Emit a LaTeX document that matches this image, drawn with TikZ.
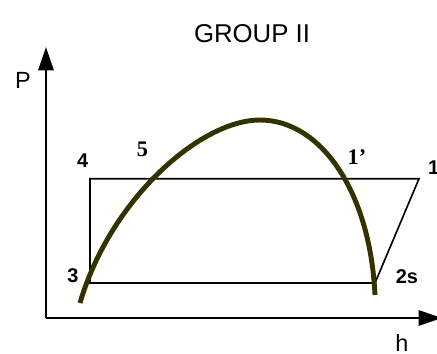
\documentclass[tikz,border=0pt]{standalone}
\usepackage{fontspec}
\setmainfont{Liberation Sans}
\newfontfamily\timesbold{Liberation Serif}[BoldFont={* Bold}]
\usetikzlibrary{arrows.meta}
\definecolor{satcurve}{RGB}{51,51,0}

\begin{document}
\begin{tikzpicture}[x=0.03cm,y=-0.03cm,
    axis/.style={line width=2.2pt,-{Triangle[length=20pt,width=13pt]}},
    cycleline/.style={line width=1.4pt,line join=miter},
    dome/.style={satcurve,line width=4.2pt},
    ptlabel/.style={font=\fontsize{17}{20}\selectfont\bfseries,inner sep=0pt},
    seriflabel/.style={font=\fontsize{19}{22}\selectfont\timesbold\bfseries,inner sep=0pt},
    axlabel/.style={font=\fontsize{20}{24}\selectfont,inner sep=0pt}]
  \useasboundingbox (0,0) rectangle (437,353);

  \coordinate (origin) at (46,318);
  \coordinate (ytip) at (46,47);
  \coordinate (xtip) at (442,318);
  \draw[axis] (origin) -- (ytip);
  \draw[axis] (origin) -- (xtip);
  \node[axlabel] (plabel) at (23,80) {P};
  \node[axlabel] (hlabel) at (402,343) {h};
  \node[font=\fontsize{22}{26}\selectfont,inner sep=0pt] (title) at (252,34) {GROUP II};

  \coordinate (p4) at (90,178.7);
  \coordinate (p1) at (419,178.7);
  \coordinate (p2s) at (375,283);
  \coordinate (p3) at (90,283);
  \draw[cycleline] (p4) -- (p1) -- (p2s) -- (p3) -- cycle;

  \draw[dome] (80,303) .. controls (110,200) and (200,120) .. (260,120)
    .. controls (320,120) and (370,190) .. (375,295);

  \node[ptlabel] (l4) at (82.7,161) {4};
  \node[ptlabel] (l3) at (73,276) {3};
  \node[ptlabel] (l2s) at (407,277) {2s};
  \node[ptlabel,anchor=west] (l1) at (428,168) {1};
  \node[seriflabel] (l5) at (142.5,149) {5};
  \node[seriflabel] (l1p) at (357,157) {1’};
\end{tikzpicture}
\end{document}
